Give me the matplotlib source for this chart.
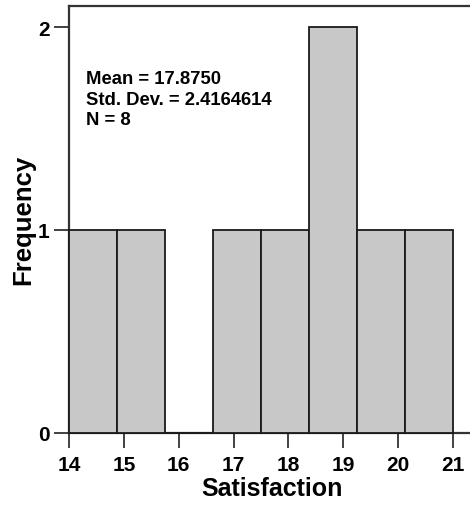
import numpy as np
from matplotlib import pyplot as plt

# histogram of Satisfaction (SPSS style)
bin_low = 14.0
bin_high = 21.0
counts = [1, 1, 0, 1, 1, 2, 1, 1]
x_ticks = [14, 15, 16, 17, 18, 19, 20, 21]
y_ticks = [0, 1, 2]
stats_text = 'Mean = 17.8750\nStd. Dev. = 2.4164614\nN = 8'


def main():
    plt.rcParams['font.family'] = ['Liberation Sans', 'DejaVu Sans']
    fig = plt.figure(figsize=(4.70, 5.06), dpi=100)
    ax = fig.add_axes([69 / 470, 72 / 506, 405 / 470, (434 - 6.5) / 506])

    edges = np.linspace(bin_low, bin_high, len(counts) + 1)
    widths = np.diff(edges)
    ax.bar(edges[:-1], counts, width=widths, align='edge', color='#c8c8c8',
           edgecolor='#1a1a1a', linewidth=1.3, clip_on=False, zorder=3)

    ax.set_xlim(14, 14 + 405 / 54.86)
    ax.set_ylim(0, 2 + 21.5 / 203)

    ax.set_xticks(x_ticks)
    ax.set_yticks(y_ticks)
    ax.tick_params(direction='out', length=11, width=1.3, color='#333333',
                   labelsize=15, pad=3)
    ax.tick_params(axis='x', pad=5)
    for lab in ax.get_xticklabels() + ax.get_yticklabels():
        lab.set_fontweight('bold')

    for side in ['left', 'top', 'bottom', 'right']:
        ax.spines[side].set_linewidth(1.6)
        ax.spines[side].set_color('#333333')

    ax.set_xlabel('Satisfaction', fontsize=18, fontweight='bold', labelpad=1)
    ax.set_ylabel('Frequency', fontsize=18.5, fontweight='bold', labelpad=2)

    ax.text(0.042, 0.848, stats_text, transform=ax.transAxes, fontsize=13.3,
            fontweight='bold', va='top', ha='left', linespacing=1.25)

    fig.savefig('out.png', dpi=100)


if __name__ == '__main__':
    main()
